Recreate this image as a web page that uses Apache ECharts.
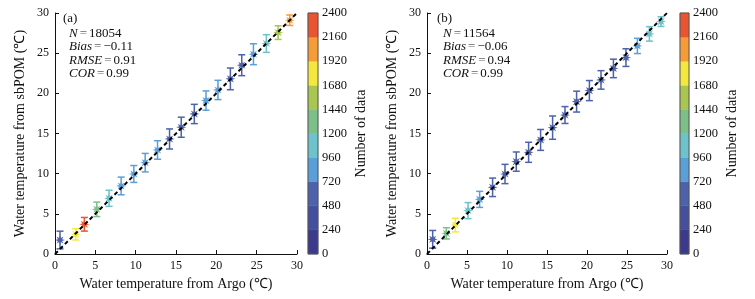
<!DOCTYPE html>
<html>
<head>
<meta charset="utf-8">
<script src="https://cdn.jsdelivr.net/npm/echarts@6/dist/echarts.min.js"></script>
<style>
  html, body { margin: 0; padding: 0; background: #fff; }
  #chart { width: 755px; height: 299px; }
</style>
</head>
<body>
<div id="chart"></div>
<script>
// panel (a)
const argoA = [0.62, 2.57, 3.64, 5.18, 6.7, 8.2, 9.77, 11.18, 12.71, 14.2, 15.65, 17.27, 18.72, 20.2, 21.74, 23.15, 24.6, 26.2, 27.66, 29.1];
const pomA = [1.74, 2.45, 3.7, 5.56, 6.93, 8.47, 9.96, 11.37, 12.95, 14.32, 15.78, 17.43, 19.1, 20.42, 21.8, 23.5, 24.87, 26.2, 27.56, 29.1];
const stdA = [1.1, 0.7, 0.85, 0.9, 1.0, 1.1, 1.05, 1.15, 1.15, 1.25, 1.25, 1.2, 1.2, 1.2, 1.35, 1.3, 1.3, 1.1, 0.85, 0.65];
const countA = [600, 1800, 2300, 1300, 1100, 850, 850, 850, 850, 600, 600, 600, 850, 850, 600, 600, 850, 1100, 1550, 2000];
const statsA = ["18054", "\u22120.11", "0.91", "0.99"];

// panel (b)
const argoB = [0.71, 2.42, 3.54, 5.13, 6.58, 8.2, 9.75, 11.16, 12.7, 14.2, 15.7, 17.25, 18.7, 20.3, 21.75, 23.3, 24.87, 26.3, 27.8, 29.25];
const pomB = [1.83, 2.57, 3.6, 5.4, 6.8, 8.3, 9.96, 11.5, 12.66, 14.2, 15.73, 17.3, 18.97, 20.34, 21.67, 23.1, 24.45, 25.9, 27.4, 28.93];
const stdB = [1.1, 0.7, 0.85, 1.0, 1.0, 1.15, 1.2, 1.2, 1.25, 1.3, 1.45, 1.05, 1.3, 1.25, 1.15, 1.15, 1.1, 0.95, 0.9, 0.6];
const countB = [600, 1300, 1800, 1100, 850, 600, 600, 600, 600, 600, 600, 600, 600, 600, 600, 600, 600, 850, 1100, 1100];
const statsB = ["11564", "\u22120.06", "0.94", "0.99"];

const oneToOne = [[0, 0], [30, 30]];
const levels = [0, 240, 480, 720, 960, 1200, 1440, 1680, 1920, 2160, 2400];
const palette = ["#3c3a8c", "#44509e", "#4e62ab", "#5b9fd8", "#6dc2cb", "#7dbf88", "#a9c650", "#f4e83e", "#f59c38", "#e85530"];

const font = "Liberation Serif";

function colorFor(n) {
  let i = Math.floor(n / 240);
  if (i > 9) i = 9;
  return palette[i];
}

// 8-armed star used as the marker
let starPath = "path://";
for (let i = 0; i < 16; i++) {
  const a = i * Math.PI / 8 - Math.PI / 2;
  const r = i % 2 ? 0.45 : 1;
  starPath += (i === 0 ? "M" : "L") + (r * Math.cos(a)).toFixed(3) + " " + (r * Math.sin(a)).toFixed(3) + " ";
}
starPath += "Z";

const myChart = echarts.init(document.getElementById("chart"));

function rows(xs, ys, ss, cs) {
  return xs.map((x, i) => [x, ys[i], ss[i], cs[i]]);
}

const axisX = (gi) => ({
  type: "value",
  gridIndex: gi,
  min: 0,
  max: 30,
  interval: 5,
  name: "Water temperature from Argo (\u2103)",
  nameLocation: "middle",
  nameGap: 23,
  nameTextStyle: { fontFamily: font, fontSize: 14, color: "#111" },
  axisLine: { lineStyle: { color: "#111", width: 1 } },
  axisTick: { inside: true, length: 4, lineStyle: { color: "#111" } },
  axisLabel: { fontFamily: font, fontSize: 12, color: "#111", margin: 6 },
  splitLine: { show: false },
});

const axisY = (gi) => ({
  type: "value",
  gridIndex: gi,
  min: 0,
  max: 30,
  interval: 5,
  name: "Water temperature from sbPOM (\u2103)",
  nameLocation: "middle",
  nameGap: 28,
  nameTextStyle: { fontFamily: font, fontSize: 14, color: "#111" },
  axisLine: { show: true, lineStyle: { color: "#111", width: 1 } },
  axisTick: { show: true, inside: true, length: 4, lineStyle: { color: "#111" } },
  axisLabel: { fontFamily: font, fontSize: 12, color: "#111", margin: 6 },
  splitLine: { show: false },
});

const cbX = (gi) => ({
  type: "value", gridIndex: gi, min: 0, max: 1, show: false,
});

const cbY = (gi) => ({
  type: "value",
  gridIndex: gi,
  position: "right",
  min: 0,
  max: 2400,
  interval: 240,
  name: "Number of data",
  nameLocation: "middle",
  nameGap: 36,
  nameTextStyle: { fontFamily: font, fontSize: 14, color: "#111" },
  axisLine: { show: false },
  axisTick: { show: false },
  axisLabel: { fontFamily: font, fontSize: 12.5, color: "#111", margin: 4, formatter: (v) => String(v) },
  splitLine: { show: false },
});

function errorSeries(gi, data) {
  return {
    type: "custom",
    xAxisIndex: gi,
    yAxisIndex: gi,
    data: data,
    z: 2,
    renderItem: function (params, api) {
      const x = api.value(0), y = api.value(1), s = api.value(2);
      const top = api.coord([x, y + s]);
      const bot = api.coord([x, y - s]);
      const c = colorFor(api.value(3));
      const w = 3.5;
      const st = { stroke: c, lineWidth: 1.5 };
      return {
        type: "group",
        children: [
          { type: "line", shape: { x1: top[0], y1: top[1], x2: bot[0], y2: bot[1] }, style: st },
          { type: "line", shape: { x1: top[0] - w, y1: top[1], x2: top[0] + w, y2: top[1] }, style: st },
          { type: "line", shape: { x1: bot[0] - w, y1: bot[1], x2: bot[0] + w, y2: bot[1] }, style: st },
        ],
      };
    },
  };
}

function pointSeries(gi, data) {
  return {
    type: "scatter",
    xAxisIndex: gi,
    yAxisIndex: gi,
    data: data,
    symbol: starPath,
    symbolSize: 10,
    z: 3,
    itemStyle: {
      color: (p) => colorFor(p.value[3]),
      opacity: 1,
    },
  };
}

function lineSeries(gi) {
  return {
    type: "line",
    xAxisIndex: gi,
    yAxisIndex: gi,
    data: oneToOne,
    symbol: "none",
    z: 4,
    lineStyle: { color: "#000", width: 2, type: [4, 3] },
  };
}

function barSeries(gi) {
  return {
    type: "custom",
    xAxisIndex: gi,
    yAxisIndex: gi,
    data: palette.map((c, i) => [levels[i], levels[i + 1], i]),
    renderItem: function (params, api) {
      const lo = api.coord([0, api.value(0)]);
      const hi = api.coord([1, api.value(1)]);
      return {
        type: "rect",
        shape: { x: lo[0], y: hi[1], width: hi[0] - lo[0], height: lo[1] - hi[1] },
        style: { fill: palette[api.value(2)], stroke: palette[api.value(2)], lineWidth: 0.5 },
      };
    },
  };
}

function statText(left, top, label, stats) {
  const rich = {
    i: { fontFamily: font, fontSize: 13, fontStyle: "italic", fill: "#111" },
    e: { fontFamily: font, fontSize: 13, fill: "#666", padding: [0, 2] },
    n: { fontFamily: font, fontSize: 13, fill: "#111" },
  };
  return [
    { type: "text", left: left - 6, top: top - 15, style: { text: label, fontFamily: font, fontSize: 13, fill: "#111" } },
    { type: "text", left: left, top: top, style: { text: "{i|N}{e|=}{n|" + stats[0] + "}", rich: rich } },
    { type: "text", left: left, top: top + 13.5, style: { text: "{i|Bias}{e|=}{n|" + stats[1] + "}", rich: rich } },
    { type: "text", left: left, top: top + 27, style: { text: "{i|RMSE}{e|=}{n|" + stats[2] + "}", rich: rich } },
    { type: "text", left: left, top: top + 40.5, style: { text: "{i|COR}{e|=}{n|" + stats[3] + "}", rich: rich } },
  ];
}

const option = {
  backgroundColor: "#fff",
  animation: false,
  grid: [
    { left: 55, top: 13, width: 242, height: 241 },
    { left: 427, top: 13, width: 240, height: 241 },
    { left: 308, top: 13, width: 10, height: 241 },
    { left: 680, top: 13, width: 9, height: 241 },
  ],
  xAxis: [axisX(0), axisX(1), cbX(2), cbX(3)],
  yAxis: [axisY(0), axisY(1), cbY(2), cbY(3)],
  series: [
    errorSeries(0, rows(argoA, pomA, stdA, countA)),
    pointSeries(0, rows(argoA, pomA, stdA, countA)),
    lineSeries(0),
    errorSeries(1, rows(argoB, pomB, stdB, countB)),
    pointSeries(1, rows(argoB, pomB, stdB, countB)),
    lineSeries(1),
    barSeries(2),
    barSeries(3),
  ],
  graphic: [
    ...statText(69, 27, "(a)", statsA),
    ...statText(443, 27, "(b)", statsB),
    { type: "rect", z: 100, shape: { x: 308, y: 13, width: 10, height: 241 }, style: { fill: "none", stroke: "#555", lineWidth: 1 } },
    { type: "rect", z: 100, shape: { x: 680, y: 13, width: 9, height: 241 }, style: { fill: "none", stroke: "#555", lineWidth: 1 } },
  ],
};

myChart.setOption(option);
</script>
</body>
</html>
